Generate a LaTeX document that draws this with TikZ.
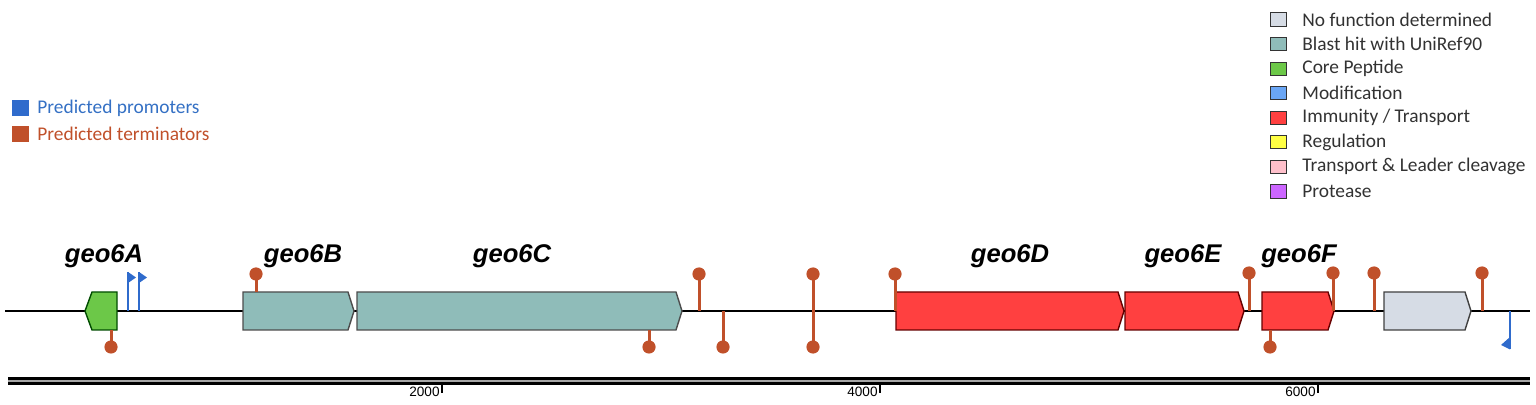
\documentclass[tikz,border=0pt]{standalone}
\usepackage{fontspec}
\setmainfont{Carlito}
\newfontfamily\arialf{Liberation Sans}
\definecolor{promc}{RGB}{47,107,204}
\definecolor{promtxt}{RGB}{52,112,196}
\definecolor{termc}{RGB}{192,80,42}
\definecolor{tealc}{RGB}{143,188,185}
\definecolor{greyc}{RGB}{214,220,229}
\definecolor{greenc}{RGB}{108,200,72}
\definecolor{redc}{RGB}{255,64,64}
\definecolor{bluec}{RGB}{106,166,245}
\definecolor{yellowc}{RGB}{255,255,68}
\definecolor{pinkc}{RGB}{255,192,203}
\definecolor{purplec}{RGB}{204,102,255}
\definecolor{legtxt}{RGB}{50,50,50}
\newcommand\generight[4]{\draw[genebox, fill=#3, draw=#4] (#1,292) -- (#2-6,292) -- (#2,311) -- (#2-6,330) -- (#1,330) -- cycle;}
\begin{document}
\begin{tikzpicture}[x=0.5pt,y=-0.5pt,
  genebox/.style={line width=0.7pt, line join=miter},
  termline/.style={draw=termc, line width=1.5pt},
  promline/.style={draw=promc, line width=1.4pt},
  legbox/.style={draw=black!80, line width=0.5pt},
  legtext/.style={anchor=west, inner sep=0pt, font=\fontsize{9.7}{11}\selectfont, text=legtxt},
  genelabel/.style={font=\arialf\bfseries\itshape\fontsize{12.8}{14}\selectfont, inner sep=0pt},
  scalelabel/.style={font=\arialf\fontsize{6.8}{7}\selectfont, anchor=base east, inner sep=0pt}]
\useasboundingbox (0,0) rectangle (1536,405);
% left legend
\fill[promc] (12,100) rectangle (29,116);
\node[legtext, text=promtxt] (lp) at (37,108) {Predicted promoters};
\fill[termc] (12,126) rectangle (29,142);
\node[legtext, text=termc] (lt) at (37,134) {Predicted terminators};
% right legend
\foreach \c/\t [count=\i from 0] in {greyc/{No function determined}, tealc/{Blast hit with UniRef90}, greenc/{Core Peptide}, bluec/{Modification}, redc/{Immunity / Transport}, yellowc/{Regulation}, pinkc/{Transport \& Leader cleavage}, purplec/{Protease}}{
  \pgfmathsetmacro\yy{19.5+24.57*\i}
  \draw[legbox, fill=\c] (1270,\yy-6.6) rectangle (1286,\yy+6.6);
  \node[legtext] (leg\i) at (1302,\yy) {\t};
}
% backbone
\coordinate (bbL) at (5,311);
\coordinate (bbR) at (1530,311);
\draw[line width=1.4pt] (bbL) -- (bbR);
% genes
\draw[genebox, fill=greenc, draw=black!70!green] (85,311) -- (92,292) -- (117,292) -- (117,330) -- (92,330) -- cycle;
\generight{243}{354}{tealc}{black!70}
\generight{357}{682}{tealc}{black!70}
\generight{896}{1124}{redc}{red!40!black}
\generight{1125}{1244}{redc}{red!40!black}
\generight{1262}{1334}{redc}{red!40!black}
\generight{1384}{1471}{greyc}{black!75}
% terminators
\foreach \x/\a/\b in {111/330/347, 256/292/274, 649/330/347, 699/311/274, 723/311/347, 813/347/274, 895/311/274, 1249/311/273, 1333/311/273, 1270/330/347, 1374/311/273, 1482/311/273}{
  \coordinate (ta) at (\x,\a);
  \coordinate (tb) at (\x,\b);
  \draw[termline] (ta) -- (tb);
  \fill[termc] (tb) circle (3.3pt);
}
\fill[termc] (813,347) circle (3.3pt);
% promoters
\foreach \x in {128,139}{
  \coordinate (pa) at (\x,311);
  \coordinate (pb) at (\x,272);
  \draw[promline] (pa) -- (pb);
  \fill[promc] (\x,272) -- (\x+8,277.5) -- (\x,283) -- cycle;
}
\coordinate (pra) at (1510,311);
\coordinate (prb) at (1510,349);
\draw[promline] (pra) -- (prb);
\fill[promc] (1510,337) -- (1501,345) -- (1510,349.5) -- cycle;
% gene labels
\node[genelabel] (gA) at (104,256) {geo6A};
\node[genelabel] (gB) at (303,256) {geo6B};
\node[genelabel] (gC) at (512,256) {geo6C};
\node[genelabel] (gD) at (1010,256) {geo6D};
\node[genelabel] (gE) at (1183,256) {geo6E};
\node[genelabel] (gF) at (1299,256) {geo6F};
% scale bar
\coordinate (sL) at (8,381);
\coordinate (sR) at (1530,381);
\draw[line width=1.2pt] ([yshift=1.3pt]sL) -- ([yshift=1.3pt]sR);
\draw[line width=1.2pt] ([yshift=-1.3pt]sL) -- ([yshift=-1.3pt]sR);
\draw[line width=0.7pt, black!35] (sL) -- (sR);
\foreach \x/\l in {442/2000, 880/4000, 1318/6000}{
  \draw[line width=0.7pt] (\x,384) -- (\x,393);
  \node[scalelabel] at (\x-2,397) {\l};
}
\end{tikzpicture}
\end{document}
